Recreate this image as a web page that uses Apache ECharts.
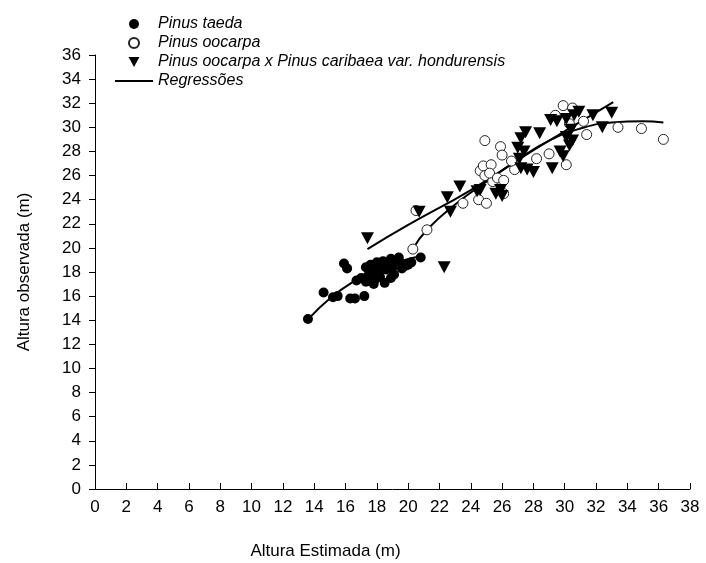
<!DOCTYPE html>
<html>
<head>
<meta charset="utf-8">
<script src="https://cdn.jsdelivr.net/npm/echarts@6/dist/echarts.min.js"></script>
<style>
  html, body { margin: 0; padding: 0; background: #fff; }
  #chart { width: 706px; height: 563px; }
</style>
</head>
<body>
<div id="chart"></div>
<script>
// x ticks / y ticks
const xTicks = [0, 38, 2];
const yTicks = [0, 36, 2];

// Pinus taeda [estimada, observada]
const taeda = [
  [13.6, 14.1], [14.6, 16.3], [15.2, 15.9], [15.5, 16.0], [15.9, 18.7], [16.1, 18.3],
  [16.3, 15.8], [16.6, 15.8], [16.7, 17.3], [17.2, 16.0], [17.3, 17.2], [17.4, 17.6],
  [17.5, 18.1], [17.6, 18.6], [17.7, 17.8], [17.8, 18.3], [17.9, 17.4], [18.0, 18.8],
  [18.1, 18.0], [18.2, 17.6], [18.3, 18.5], [18.4, 18.9], [18.5, 17.1], [18.6, 18.2],
  [18.7, 18.7], [18.9, 19.1], [19.0, 18.4], [19.1, 17.8], [19.2, 18.9], [19.4, 19.2],
  [19.6, 18.7], [19.8, 18.5], [20.0, 18.6], [20.2, 18.8], [20.8, 19.2], [17.3, 18.4],
  [17.0, 17.5], [17.8, 17.0], [18.9, 17.5], [19.6, 18.3]
];

// Pinus oocarpa
const oocarpa = [
  [20.3, 19.9], [21.2, 21.5], [20.5, 23.1], [23.5, 23.7], [24.5, 24.0], [25.0, 23.7],
  [24.6, 26.4], [24.8, 26.8], [25.3, 26.9], [24.9, 26.0], [25.4, 25.5], [25.2, 26.2],
  [25.7, 25.8], [26.1, 25.6], [26.1, 24.5], [26.8, 26.5], [24.9, 28.9], [25.9, 28.4],
  [26.0, 27.7], [26.6, 27.2], [28.2, 27.4], [29.0, 27.8], [30.1, 26.9], [29.9, 31.8],
  [30.6, 31.4], [30.5, 31.6], [31.2, 30.5], [31.4, 29.4], [30.3, 30.3], [29.4, 31.0],
  [33.4, 30.0], [34.9, 29.9], [36.3, 29.0]
];

// Pinus oocarpa x Pinus caribaea var. hondurensis
const hibrido = [
  [17.4, 20.8], [20.7, 23.0], [22.3, 18.4], [22.5, 24.2], [22.7, 23.0], [23.3, 25.1],
  [24.4, 24.7], [24.6, 24.8], [25.6, 24.5], [25.9, 24.8], [26.0, 24.3], [27.0, 28.3],
  [27.1, 27.4], [27.2, 29.1], [27.2, 26.6], [27.4, 28.0], [27.5, 29.6], [27.6, 26.5],
  [28.0, 26.3], [28.4, 29.5], [29.1, 30.6], [29.2, 26.6], [29.5, 30.5], [29.7, 28.0],
  [29.9, 27.6], [30.1, 30.7], [30.1, 29.2], [30.3, 28.5], [30.4, 29.8], [30.5, 28.9],
  [30.6, 31.0], [30.9, 31.3], [31.8, 31.0], [32.4, 30.0], [33.0, 31.2]
];

// curvas de regressão
const regTaeda = [[13.7, 14.2], [15.0, 15.8], [16.5, 17.2], [18.0, 18.2], [19.5, 18.9], [20.8, 19.3]];
const regOocarpa = [
  [20.3, 19.9], [21.2, 21.5], [23.0, 23.6], [25.0, 25.5], [27.0, 27.3], [29.0, 28.9],
  [31.0, 29.9], [33.0, 30.4], [35.0, 30.5], [36.3, 30.4]
];
const regHibrido = [[17.4, 19.9], [20.0, 21.9], [24.0, 24.8], [28.0, 28.1], [33.1, 32.1]];

const chart = echarts.init(document.getElementById('chart'), null, { renderer: 'canvas' });

const font = 'Liberation Sans, Arial, sans-serif';
const triDown = 'path://M0,0 L12,0 L6,11 Z';
const lineIcon = 'path://M0,0 L38,0 L38,2 L0,2 Z';

const regStyle = {
  type: 'line',
  name: 'Regressões',
  symbol: 'none',
  smooth: true,
  itemStyle: { color: '#000' },
  lineStyle: { color: '#000', width: 2 },
  z: 3
};

const option = {
  animation: false,
  textStyle: { fontFamily: font, color: '#000' },
  legend: {
    orient: 'vertical',
    left: 110,
    top: 11,
    itemGap: 3,
    itemWidth: 38,
    itemHeight: 10,
    textStyle: { fontStyle: 'italic', fontSize: 16, color: '#000', fontFamily: font },
    data: [
      { name: 'Pinus taeda', icon: 'circle' },
      { name: 'Pinus oocarpa', icon: 'circle' },
      { name: 'Pinus oocarpa x Pinus caribaea var. hondurensis', icon: triDown },
      { name: 'Regressões', icon: lineIcon }
    ]
  },
  grid: { left: 95, right: 16, top: 55, bottom: 74, outerBoundsMode: 'none' },
  xAxis: {
    type: 'value',
    min: xTicks[0], max: xTicks[1], interval: xTicks[2],
    name: 'Altura Estimada (m)',
    nameLocation: 'middle',
    nameGap: 54,
    nameTextStyle: { fontSize: 17, color: '#000', padding: [0, 134, 0, 0] },
    axisLine: { show: true, lineStyle: { color: '#000', width: 1 } },
    axisTick: { show: true, inside: true, length: 6, lineStyle: { color: '#000' } },
    axisLabel: { fontSize: 17, color: '#000', margin: 10 },
    splitLine: { show: false }
  },
  yAxis: {
    type: 'value',
    min: yTicks[0], max: yTicks[1], interval: yTicks[2],
    name: 'Altura observada (m)',
    nameLocation: 'middle',
    nameGap: 62,
    nameTextStyle: { fontSize: 17, color: '#000' },
    axisLine: { show: true, lineStyle: { color: '#000', width: 1 } },
    axisTick: { show: true, length: 6, lineStyle: { color: '#000' } },
    axisLabel: { fontSize: 17, color: '#000', margin: 14 },
    splitLine: { show: false }
  },
  series: [
    {
      name: 'Pinus taeda', type: 'scatter', data: taeda,
      symbol: 'circle', symbolSize: 10,
      itemStyle: { color: '#000', opacity: 1 }, z: 4
    },
    {
      name: 'Pinus oocarpa', type: 'scatter', data: oocarpa,
      symbol: 'circle', symbolSize: 10,
      itemStyle: { color: '#fff', borderColor: '#222', borderWidth: 1, opacity: 1 }, z: 4
    },
    {
      name: 'Pinus oocarpa x Pinus caribaea var. hondurensis', type: 'scatter', data: hibrido,
      symbol: triDown, symbolSize: [13, 12],
      itemStyle: { color: '#000', opacity: 1 }, z: 5
    },
    Object.assign({ data: regTaeda }, regStyle),
    Object.assign({ data: regOocarpa }, regStyle),
    Object.assign({ data: regHibrido }, regStyle)
  ]
};

chart.setOption(option);
</script>
</body>
</html>
